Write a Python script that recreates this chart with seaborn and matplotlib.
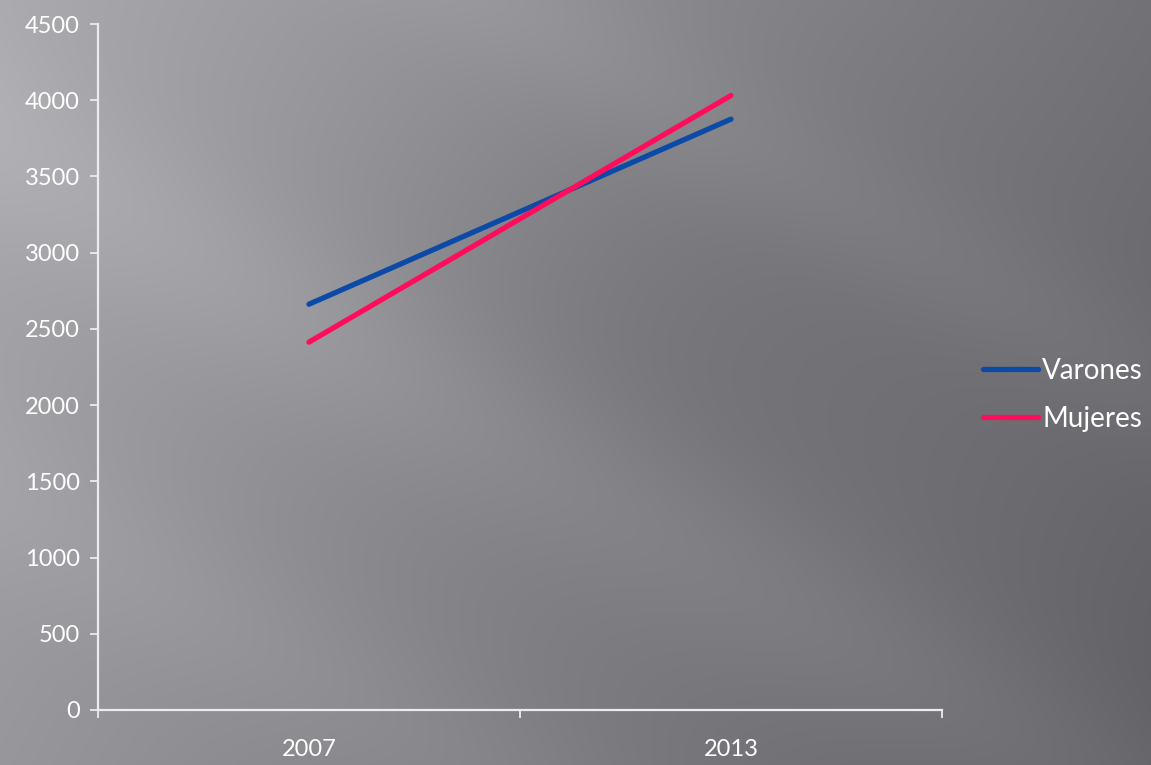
import numpy as np
import pandas as pd
import seaborn as sns
import matplotlib.pyplot as plt

# data
years = ['2007', '2013']
varones = [2662, 3876]
mujeres = [2413, 4031]
series_names = ['Varones', 'Mujeres']
y_ticks = list(range(0, 5000, 500))

df = pd.DataFrame({
    'year': years * 2,
    'value': varones + mujeres,
    'serie': [series_names[0]] * 2 + [series_names[1]] * 2,
})

sns.set_theme(style='white')
plt.rcParams['font.family'] = ['Lato', 'DejaVu Sans']

fig = plt.figure(figsize=(11.51, 7.65), dpi=100)

# gray gradient background with soft diagonal streaks
h, w = 765, 1151
yy, xx = np.mgrid[0:h, 0:w]
t = xx / w * 0.75 + yy / h * 0.25
base = 172 - 74 * t
u = (xx * 0.5 - yy * 0.85)
streaks = (10 * np.exp(-((u + 120) / 90) ** 2) + 7 * np.exp(-((u - 250) / 70) ** 2)
           + 6 * np.exp(-((u + 420) / 80) ** 2))
shade = -10 * np.exp(-(((xx - 650) / 300) ** 2 + ((yy - 330) / 250) ** 2))
g = base + streaks + shade
img = np.stack([g - 2, g - 3, g + 2], axis=-1)
img = np.clip(img, 0, 255) / 255
bg = fig.add_axes([0, 0, 1, 1], zorder=-1)
bg.imshow(img, aspect='auto')
bg.axis('off')

ax = fig.add_axes([0.0851, 0.0719, 0.7333, 0.8967])
ax.set_facecolor('none')

palette = {'Varones': '#0B4AA6', 'Mujeres': '#FF0D5C'}
sns.lineplot(data=df, x='year', y='value', hue='serie', palette=palette,
             linewidth=3.8, sort=False, ax=ax, legend=True,
             solid_capstyle='round')

ax.set_xlim(-0.5, 1.5)
ax.set_ylim(0, 4500)
ax.set_yticks(y_ticks)
ax.set_xticks([0, 1])
ax.set_xticklabels(years)
ax.set_xticks([-0.5, 0.5, 1.5], minor=True)
ax.set_xlabel('')
ax.set_ylabel('')

axis_col = '#ECECEC'
for side in ['top', 'right']:
    ax.spines[side].set_visible(False)
for side in ['left', 'bottom']:
    ax.spines[side].set_color(axis_col)
    ax.spines[side].set_linewidth(1.6)

ax.tick_params(axis='y', which='major', direction='out', length=6, width=1.3,
               color=axis_col, labelcolor='white', labelsize=17, pad=7, left=True)
ax.tick_params(axis='x', which='major', length=0, labelcolor='white',
               labelsize=17, pad=21)
ax.tick_params(axis='x', which='minor', direction='out', length=6, width=1.3,
               color=axis_col, bottom=True)

leg = ax.legend(loc='center left', bbox_to_anchor=(0.844, 0.484),
                bbox_transform=fig.transFigure, frameon=False, fontsize=20,
                handlelength=2.0, handletextpad=0.15, labelspacing=0.8,
                labelcolor='white', borderaxespad=0)
for line in leg.get_lines():
    line.set_linewidth(3.8)

fig.savefig('out.png', dpi=100)
